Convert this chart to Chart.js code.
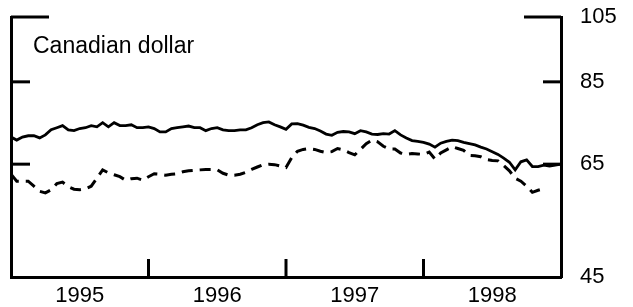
<!DOCTYPE html>
<html>
<head>
<meta charset="utf-8">
<script src="https://cdn.jsdelivr.net/npm/chart.js@4"></script>
<style>
  body { margin: 0; background: #fff; }
  canvas { display: block; }
</style>
</head>
<body>
<canvas id="chart" width="633" height="307"></canvas>
<script>
// half-monthly readings, Jan 1995 onward
const startYear = 1995;
const stepsPerYear = 24;
const yearLabels = ['1995', '1996', '1997', '1998'];
const yTicks = [45, 65, 85, 105];

const solidValues = [
  71.0, 70.3, 71.0, 71.3, 71.3, 70.8, 71.5, 72.7, 73.2, 73.7, 72.7, 72.5,
  73.0, 73.2, 73.7, 73.4, 74.4, 73.4, 74.4, 73.7, 73.7, 73.9, 73.2, 73.2,
  73.4, 73.0, 72.2, 72.2, 73.0, 73.2, 73.4, 73.6, 73.2, 73.2, 72.5, 73.0,
  73.2, 72.7, 72.5, 72.5, 72.7, 72.7, 73.2, 73.9, 74.4, 74.6, 73.9, 73.4,
  72.8, 74.1, 74.2, 73.8, 73.3, 73.0, 72.4, 71.7, 71.4, 72.1, 72.3, 72.2,
  71.8, 72.5, 72.2, 71.7, 71.6, 71.8, 71.7, 72.5, 71.5, 70.8, 70.2, 70.0,
  69.8, 69.4, 68.7, 69.6, 70.0, 70.3, 70.2, 69.8, 69.5, 69.2, 68.7, 68.3,
  67.7, 67.1, 66.3, 65.4, 63.8, 65.5, 65.9, 64.5, 64.5, 64.8, 64.6, 64.8,
  65.0
];

const dashedValues = [
  62.9, 61.5, 61.5, 61.5, 60.5, 59.5, 59.2, 59.8, 61.0, 61.3, 60.4, 59.9,
  59.8, 60.0, 60.5, 62.1, 63.8, 63.2, 62.8, 62.4, 61.7, 62.0, 62.1, 61.7,
  62.4, 63.0, 62.9, 62.7, 62.9, 63.0, 63.4, 63.6, 63.7, 63.8, 63.9, 63.9,
  63.8, 63.1, 62.7, 62.7, 62.9, 63.3, 63.9, 64.4, 64.9, 65.0, 64.9, 64.6,
  64.3, 66.4, 67.8, 68.2, 68.4, 68.2, 67.8, 67.5, 67.7, 68.4, 68.1, 67.5,
  67.0, 68.2, 69.5, 70.3, 69.9, 68.9, 68.3, 68.3, 67.4, 67.1, 67.3, 67.2,
  67.1, 67.6, 66.1, 67.4, 68.1, 68.8, 68.4, 68.0, 66.9, 66.8, 66.6, 66.0,
  65.8, 65.7, 64.7, 63.6, 62.1, 61.5, 60.5, 59.3, 59.7, 60.0
];

const toPoints = vals => vals.map((v, i) => ({ x: startYear + i / stepsPerYear, y: v }));

const fontFamily = '"Liberation Sans", Arial, Helvetica, sans-serif';

// inward tick marks and the panel title
const frameTicks = {
  id: 'frameTicks',
  afterDraw(chart) {
    const ctx = chart.ctx;
    const area = chart.chartArea;
    const ys = chart.scales.y;
    const xs = chart.scales.x;
    ctx.save();
    ctx.strokeStyle = '#000';
    ctx.lineWidth = 3;
    ctx.lineCap = 'butt';
    [[105, 38], [85, 19], [65, 19]].forEach(([v, len]) => {
      const py = ys.getPixelForValue(v);
      ctx.beginPath();
      ctx.moveTo(area.left, py);
      ctx.lineTo(area.left + len, py);
      ctx.stroke();
    });
    [[105, 37], [85, 18], [65, 18]].forEach(([v, len]) => {
      const py = ys.getPixelForValue(v);
      ctx.beginPath();
      ctx.moveTo(area.right, py);
      ctx.lineTo(area.right - len, py);
      ctx.stroke();
    });
    [1996, 1997, 1998].forEach(v => {
      const px = xs.getPixelForValue(v);
      ctx.beginPath();
      ctx.moveTo(px, area.bottom);
      ctx.lineTo(px, area.bottom - 18);
      ctx.stroke();
    });
    ctx.fillStyle = '#000';
    ctx.font = '23px ' + fontFamily;
    ctx.textBaseline = 'alphabetic';
    ctx.fillText('Canadian dollar', 33, 53);
    ctx.restore();
  }
};

new Chart(document.getElementById('chart'), {
  type: 'line',
  data: {
    datasets: [
      {
        data: toPoints(solidValues),
        borderColor: '#000',
        borderWidth: 2.8,
        pointRadius: 0,
        tension: 0,
        yAxisID: 'y'
      },
      {
        data: toPoints(dashedValues),
        borderColor: '#000',
        borderWidth: 3,
        borderDash: [11, 7],
        pointRadius: 0,
        tension: 0,
        yAxisID: 'y'
      }
    ]
  },
  options: {
    responsive: false,
    animation: false,
    layout: { padding: { top: 17, left: 0, right: 0, bottom: 0 } },
    plugins: { legend: { display: false }, tooltip: { enabled: false } },
    scales: {
      x: {
        type: 'linear',
        min: 1995,
        max: 1999,
        grid: { display: false, drawTicks: false },
        border: { display: true, width: 3, color: '#000' },
        afterBuildTicks: s => { s.ticks = yearLabels.map(y => ({ value: Number(y) + 0.5 })); },
        ticks: {
          autoSkip: false,
          maxRotation: 0,
          padding: 6,
          color: '#000',
          font: { size: 22, family: fontFamily },
          callback: v => String(Math.floor(v))
        },
        afterFit: s => { s.height = 30; s.paddingLeft = 0; s.paddingRight = 0; }
      },
      y: {
        type: 'logarithmic',
        position: 'left',
        min: 45,
        max: 105,
        grid: { display: false, drawTicks: false },
        border: { display: true, width: 3, color: '#000' },
        ticks: { display: false },
        afterFit: s => { s.width = 11; s.paddingTop = 0; s.paddingBottom = 0; }
      },
      y2: {
        type: 'logarithmic',
        position: 'right',
        min: 45,
        max: 105,
        grid: { display: false, drawTicks: false },
        border: { display: true, width: 3, color: '#000' },
        afterBuildTicks: s => { s.ticks = yTicks.map(v => ({ value: v })); },
        ticks: {
          padding: 19,
          color: '#000',
          font: { size: 22, family: fontFamily },
          callback: v => String(v)
        },
        afterFit: s => { s.width = 72; s.paddingTop = 0; s.paddingBottom = 0; }
      }
    }
  },
  plugins: [frameTicks]
});
</script>
</body>
</html>
